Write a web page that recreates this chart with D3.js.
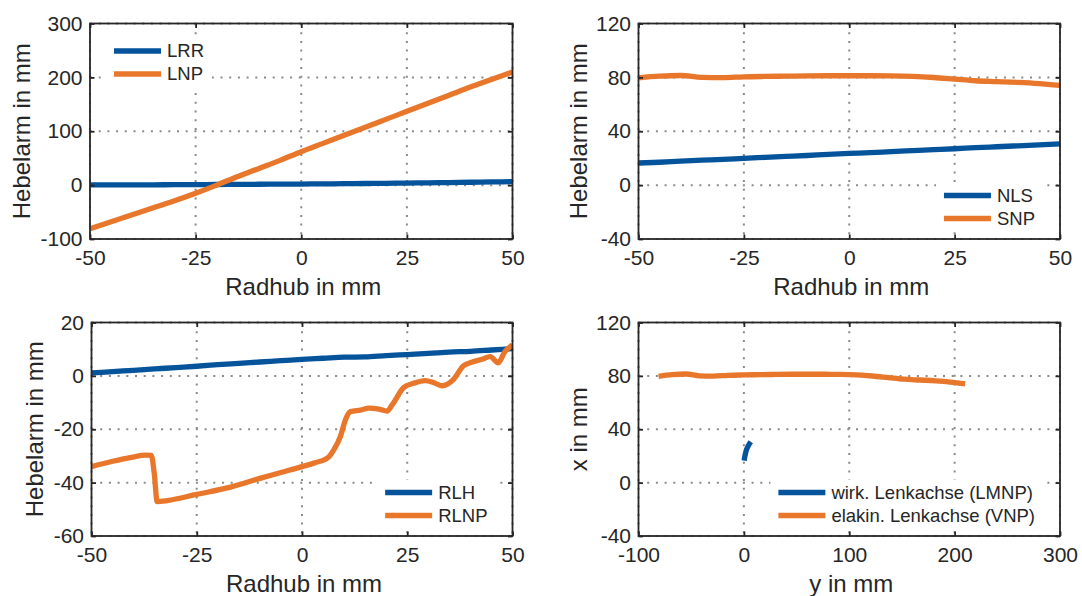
<!DOCTYPE html>
<html>
<head>
<meta charset="utf-8">
<script src="https://cdn.jsdelivr.net/npm/d3@7"></script>
<style>
  body { margin: 0; background: #ffffff; }
  svg { display: block; }
</style>
</head>
<body>
<svg id="fig" width="1082" height="596"></svg>
<script>
// Radhub samples shared by the lever-arm curves (mm)
const radhub = [-50, -45, -40, -35, -30, -25, -20, -15, -10, -5, 0, 5, 10, 15, 20, 25, 30, 35, 40, 45, 50];

// Lenkrollradius / Lage Nachlaufpunkt (mm)
const lrr = [0.3, 0.4, 0.5, 0.6, 0.8, 1.0, 1.2, 1.4, 1.6, 1.8, 2.0, 2.3, 2.6, 3.0, 3.4, 3.8, 4.3, 4.8, 5.3, 5.9, 6.5];
const lnp = [-81, -68, -55, -42, -29, -15, 0, 16, 31, 46, 62, 77, 92, 107, 122, 137, 152, 167, 182, 196, 210];

// Nachlaufstrecke / Spreiz-Nachlaufpunkt (mm)
const nls = [16.4, 17.0, 17.8, 18.5, 19.1, 19.9, 20.6, 21.3, 22.0, 22.8, 23.5, 24.1, 24.9, 25.6, 26.3, 27.0, 27.8, 28.5, 29.2, 29.9, 30.6];
const snp = [79.7, 80.9, 81.4, 80.0, 79.8, 80.4, 80.7, 80.9, 81.1, 81.2, 81.2, 81.2, 81.1, 80.7, 79.9, 78.7, 77.5, 76.9, 76.3, 75.4, 74.0];

// Radlasthebel (mm)
const rlh = [1.1, 1.6, 2.1, 2.6, 3.1, 3.6, 4.2, 4.7, 5.2, 5.7, 6.2, 6.6, 7.0, 7.1, 7.6, 8.0, 8.4, 8.9, 9.2, 9.7, 10.2];

// Radlasthebel Nachlaufpunkt, sampled densely around its jumps (mm)
const rlnpRadhub = [-50, -45, -40.5, -37, -35.8, -35.1, -34.4, -32, -25, -17, -10, -5, 0, 3, 6.2, 7.5, 9.1, 10.3, 11.5, 13.9, 15.9, 18.3, 20.2, 21.4, 24.2, 26.5, 29.3, 31.2, 33.2, 36, 38.3, 40.3, 42.7, 44.7, 46.6, 48.2, 50];
const rlnp = [-34.0, -32.0, -30.5, -29.7, -29.8, -36.5, -47.1, -46.7, -44.4, -41.7, -38.4, -36.2, -34.0, -32.6, -30.6, -27.8, -22.8, -16.5, -13.4, -12.8, -12.1, -12.5, -13.2, -10.9, -4.3, -2.8, -1.8, -2.5, -3.7, -1.3, 3.7, 5.1, 6.2, 7.2, 4.9, 9.1, 11.6];

// Tick values
const radhubTicks = [-50, -25, 0, 25, 50];
const leverTicksA = [-100, 0, 100, 200, 300];
const leverTicksB = [-40, 0, 40, 80, 120];
const leverTicksC = [-60, -40, -20, 0, 20];
const yPosTicks = [-100, 0, 100, 200, 300];
const xPosTicks = [-40, 0, 40, 80, 120];

// Series names
const names1 = ["LRR", "LNP"];
const names2 = ["NLS", "SNP"];
const names3 = ["RLH", "RLNP"];
const names4 = ["wirk. Lenkachse (LMNP)", "elakin. Lenkachse (VNP)"];

const BLUE = "#04539b";
const ORANGE = "#e8772b";
const INK = "#262626";
const FONT = "'Liberation Sans', Arial, Helvetica, sans-serif";

const panels = [
  {
    box: { x0: 90, x1: 512.5, y0: 23.5, y1: 239 },
    xDomain: [-50, 50], yDomain: [-100, 300],
    xTicks: radhubTicks, yTicks: leverTicksA,
    xLabel: "Radhub in mm", yLabel: "Hebelarm in mm", yLabelX: 29.5,
    series: [
      { name: names1[0], x: radhub, y: lrr, color: BLUE },
      { name: names1[1], x: radhub, y: lnp, color: ORANGE }
    ],
    legend: "nw"
  },
  {
    box: { x0: 638.5, x1: 1060, y0: 23.5, y1: 239 },
    xDomain: [-50, 50], yDomain: [-40, 120],
    xTicks: radhubTicks, yTicks: leverTicksB,
    xLabel: "Radhub in mm", yLabel: "Hebelarm in mm", yLabelX: 587,
    series: [
      { name: names2[0], x: radhub, y: nls, color: BLUE },
      { name: names2[1], x: radhub, y: snp, color: ORANGE }
    ],
    legend: "se"
  },
  {
    box: { x0: 91.5, x1: 512.5, y0: 322.5, y1: 536 },
    xDomain: [-50, 50], yDomain: [-60, 20],
    xTicks: radhubTicks, yTicks: leverTicksC,
    xLabel: "Radhub in mm", yLabel: "Hebelarm in mm", yLabelX: 42.5,
    series: [
      { name: names3[0], x: radhub, y: rlh, color: BLUE },
      { name: names3[1], x: rlnpRadhub, y: rlnp, color: ORANGE }
    ],
    legend: "se"
  },
  {
    box: { x0: 638.5, x1: 1060, y0: 322.5, y1: 536 },
    xDomain: [-100, 300], yDomain: [-40, 120],
    xTicks: yPosTicks, yTicks: xPosTicks,
    xLabel: "y in mm", yLabel: "x in mm", yLabelX: 587,
    // axis positions of the steering axes: y = lever arm, x = trail
    series: [
      { name: names4[0], x: lrr, y: nls, color: BLUE },
      { name: names4[1], x: lnp, y: snp, color: ORANGE }
    ],
    legend: "se"
  }
];

const svg = d3.select("#fig").attr("font-family", FONT);
const defs = svg.append("defs");

const TICK = 4.5, AXW = 1.8, LINEW = 5.3;

function styleAxis(sel) {
  sel.select(".domain").remove();
  sel.attr("font-family", FONT).attr("font-size", 21);
  sel.selectAll(".tick line").attr("stroke", INK).attr("stroke-width", AXW);
  sel.selectAll(".tick text").attr("fill", INK);
}

function drawPanel(p, idx) {
  const b = p.box;
  const w = b.x1 - b.x0, h = b.y1 - b.y0;
  const x = d3.scaleLinear().domain(p.xDomain).range([b.x0, b.x1]);
  const y = d3.scaleLinear().domain(p.yDomain).range([b.y1, b.y0]);
  const g = svg.append("g");

  const clipId = "plotclip" + idx;
  defs.append("clipPath").attr("id", clipId)
    .append("rect").attr("x", b.x0).attr("y", b.y0).attr("width", w).attr("height", h);

  // dotted grid
  const grid = g.append("g")
    .attr("stroke", "#8a8a8a").attr("stroke-width", 2).attr("stroke-dasharray", "2,6.7");
  grid.selectAll("line.gx").data(p.xTicks).join("line").attr("class", "gx")
    .attr("x1", d => x(d)).attr("x2", d => x(d)).attr("y1", b.y0).attr("y2", b.y1);
  grid.selectAll("line.gy").data(p.yTicks).join("line").attr("class", "gy")
    .attr("y1", d => y(d)).attr("y2", d => y(d)).attr("x1", b.x0).attr("x2", b.x1);

  // data curves
  const line = d3.line().x(d => x(d[0])).y(d => y(d[1])).curve(d3.curveMonotoneX);
  const curves = g.append("g").attr("clip-path", `url(#${clipId})`);
  p.series.forEach(s => {
    curves.append("path")
      .attr("d", line(s.x.map((v, i) => [v, s.y[i]])))
      .attr("fill", "none").attr("stroke", s.color).attr("stroke-width", LINEW)
      .attr("stroke-linejoin", "round").attr("stroke-linecap", "butt");
  });

  // axes with inward ticks on all four sides
  g.append("g").attr("transform", `translate(0,${b.y1})`)
    .call(d3.axisBottom(x).tickValues(p.xTicks).tickSize(-TICK).tickPadding(11.5).tickFormat(d => String(d)))
    .call(styleAxis);
  g.append("g").attr("transform", `translate(0,${b.y0})`)
    .call(d3.axisTop(x).tickValues(p.xTicks).tickSize(-TICK).tickFormat(""))
    .call(styleAxis);
  g.append("g").attr("transform", `translate(${b.x0},0)`)
    .call(d3.axisLeft(y).tickValues(p.yTicks).tickSize(-TICK).tickPadding(7.5).tickFormat(d => String(d)))
    .call(styleAxis);
  g.append("g").attr("transform", `translate(${b.x1},0)`)
    .call(d3.axisRight(y).tickValues(p.yTicks).tickSize(-TICK).tickFormat(""))
    .call(styleAxis);

  g.append("rect").attr("x", b.x0).attr("y", b.y0).attr("width", w).attr("height", h)
    .attr("fill", "none").attr("stroke", INK).attr("stroke-width", AXW);

  // axis titles
  g.append("text").attr("x", (b.x0 + b.x1) / 2 + 2).attr("y", b.y1 + 56)
    .attr("text-anchor", "middle").attr("font-size", 24).attr("fill", INK).text(p.xLabel);
  g.append("text")
    .attr("transform", `translate(${p.yLabelX},${(b.y0 + b.y1) / 2}) rotate(-90)`)
    .attr("text-anchor", "middle").attr("font-size", 24).attr("fill", INK).text(p.yLabel);

  // legend
  const lineLen = 47, gap = 6, rowGap = 23, fs = 18.5;
  const lg = g.append("g");
  const bg = lg.append("rect").attr("fill", "#ffffff");
  const texts = [];
  p.series.forEach((s, i) => {
    lg.append("line").attr("x1", 0).attr("x2", lineLen).attr("y1", i * rowGap).attr("y2", i * rowGap)
      .attr("stroke", s.color).attr("stroke-width", LINEW);
    texts.push(lg.append("text").attr("x", lineLen + gap).attr("y", i * rowGap).attr("dy", "0.35em")
      .attr("font-size", fs).attr("fill", INK).text(s.name));
  });
  const maxW = d3.max(texts, t => t.node().getComputedTextLength());
  bg.attr("x", -8).attr("y", -13).attr("width", lineLen + gap + maxW + 16).attr("height", rowGap + 26);
  let tx, ty;
  if (p.legend === "nw") {
    tx = b.x0 + 24; ty = b.y0 + 27.5;
  } else {
    tx = b.x1 - 25 - maxW - gap - lineLen; ty = b.y1 - 43.5;
  }
  lg.attr("transform", `translate(${tx},${ty})`);
}

panels.forEach(drawPanel);
</script>
</body>
</html>
